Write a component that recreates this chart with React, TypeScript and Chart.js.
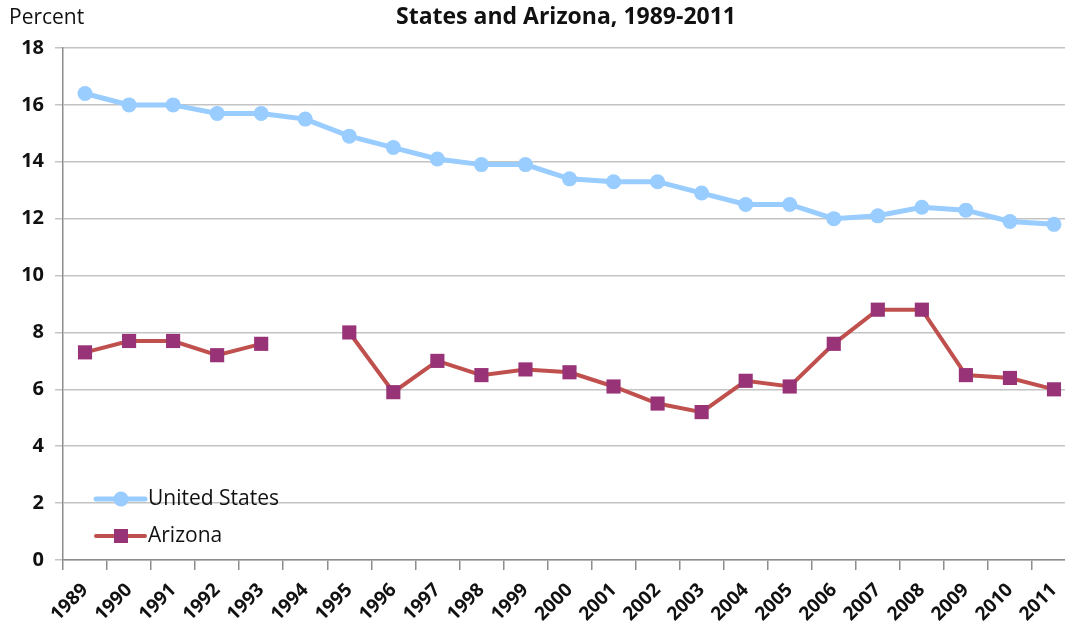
import React, { useEffect, useRef } from "react";
import { Chart, registerables } from "chart.js";

Chart.register(...registerables);

const years = ["1989","1990","1991","1992","1993","1994","1995","1996","1997","1998","1999","2000","2001","2002","2003","2004","2005","2006","2007","2008","2009","2010","2011"];
const unitedStates = [16.4,16.0,16.0,15.7,15.7,15.5,14.9,14.5,14.1,13.9,13.9,13.4,13.3,13.3,12.9,12.5,12.5,12.0,12.1,12.4,12.3,11.9,11.8];
const arizona = [7.3,7.7,7.7,7.2,7.6,null,8.0,5.9,7.0,6.5,6.7,6.6,6.1,5.5,5.2,6.3,6.1,7.6,8.8,8.8,6.5,6.4,6.0];
const yTicks = [0,2,4,6,8,10,12,14,16,18];
const titleText = "States and Arizona, 1989-2011";
const yAxisLabel = "Percent";

const FONT = "'Open Sans', 'Noto Sans', sans-serif";
const US_COLOR = "#99CCFF";
const AZ_LINE = "#C0504D";
const AZ_MARK = "#993377";

const decorPlugin = {
  id: "decor",
  afterDraw(chart: any) {
    const ctx = chart.ctx;
    ctx.save();
    ctx.fillStyle = "#111";
    ctx.textBaseline = "middle";
    ctx.font = `bold 23px ${FONT}`;
    ctx.textAlign = "center";
    ctx.fillText(titleText, 566, 17);
    ctx.font = `21px ${FONT}`;
    ctx.textAlign = "left";
    ctx.fillText(yAxisLabel, 9, 18);

    // legend
    const items = [
      { label: chart.data.datasets[0].label, line: US_COLOR, mark: US_COLOR, style: "circle", y: 499, r: 7.5, lw: 5 },
      { label: chart.data.datasets[1].label, line: AZ_LINE, mark: AZ_MARK, style: "rect", y: 536, r: 10, lw: 4 },
    ];
    for (const it of items) {
      ctx.strokeStyle = it.line;
      ctx.lineWidth = it.lw;
      ctx.lineCap = "round";
      ctx.beginPath();
      ctx.moveTo(96, it.y);
      ctx.lineTo(145, it.y);
      ctx.stroke();
      ctx.fillStyle = it.mark;
      if (it.style === "circle") {
        ctx.beginPath();
        ctx.arc(121, it.y, it.r, 0, Math.PI * 2);
        ctx.fill();
      } else {
        ctx.fillRect(114, it.y - 7, 14, 14);
      }
      ctx.fillStyle = "#111";
      ctx.font = `21px ${FONT}`;
      ctx.textAlign = "left";
      ctx.fillText(it.label, 148, it.y);
    }
    ctx.restore();
  },
};

export default function App() {
  const ref = useRef<HTMLCanvasElement>(null);
  useEffect(() => {
    document.body.style.margin = "0";
    const chart = new Chart(ref.current as HTMLCanvasElement, {
      type: "line",
      data: {
        labels: years,
        datasets: [
          {
            label: "United States",
            data: unitedStates,
            borderColor: US_COLOR,
            backgroundColor: US_COLOR,
            borderWidth: 5,
            pointStyle: "circle",
            pointRadius: 7.5,
            pointBorderWidth: 0,
            pointBackgroundColor: US_COLOR,
            tension: 0,
          },
          {
            label: "Arizona",
            data: arizona,
            borderColor: AZ_LINE,
            backgroundColor: AZ_MARK,
            borderWidth: 4,
            pointStyle: "rect",
            pointRadius: 10,
            pointBorderWidth: 0,
            pointBackgroundColor: AZ_MARK,
            spanGaps: false,
            tension: 0,
          },
        ],
      },
      options: {
        animation: false,
        responsive: false,
        devicePixelRatio: 1,
        layout: { padding: { top: 48, right: 3, left: 0, bottom: 0 } },
        plugins: { legend: { display: false }, tooltip: { enabled: false }, title: { display: false } },
        scales: {
          x: {
            type: "category",
            offset: true,
            grid: { offset: true, drawOnChartArea: false, drawTicks: true, tickLength: 10, color: "#8C8C8C", lineWidth: 1.5 },
            border: { display: true, color: "#8C8C8C", width: 1.5 },
            ticks: {
              minRotation: 45,
              maxRotation: 45,
              autoSkip: false,
              padding: 9,
              color: "#111",
              font: { family: FONT, size: 19, weight: "bold" },
            },
            afterFit(scale: any) { scale.height = 69; },
          },
          y: {
            min: 0,
            max: 18,
            afterBuildTicks(scale: any) { scale.ticks = yTicks.map((v) => ({ value: v })); },
            grid: { color: "#C4C4C4", lineWidth: 1.5, drawTicks: true, tickLength: 8 },
            border: { display: true, color: "#8C8C8C", width: 1.5 },
            ticks: {
              padding: 11,
              color: "#111",
              font: { family: FONT, size: 20, weight: "bold" },
            },
            afterFit(scale: any) { scale.width = 63; },
          },
        },
      },
      plugins: [decorPlugin],
    } as any);
    return () => chart.destroy();
  }, []);
  return (
    <div style={{ position: "absolute", left: 0, top: 0, width: 1065, height: 629, overflow: "hidden" }}>
      <canvas ref={ref} width={1086} height={629} style={{ width: 1086, height: 629, display: "block" }} />
    </div>
  );
}
